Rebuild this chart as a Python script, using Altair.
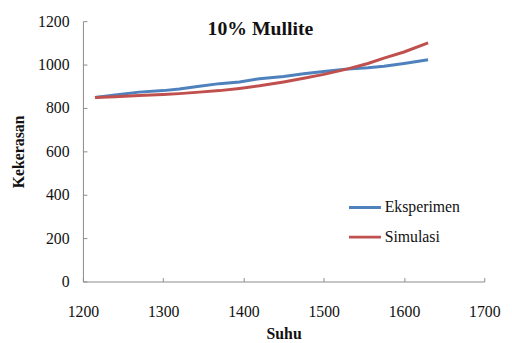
import altair as alt
import pandas as pd

suhu = [1215, 1240, 1270, 1300, 1320, 1345, 1370, 1395, 1420, 1450, 1475, 1500, 1530, 1555, 1575, 1600, 1630]
eksperimen = [848, 860, 873, 880, 887, 900, 912, 920, 935, 945, 958, 968, 980, 985, 992, 1005, 1022]
simulasi = [848, 852, 857, 862, 866, 873, 880, 890, 902, 920, 937, 955, 980, 1005, 1030, 1058, 1100]
series_names = ["Eksperimen", "Simulasi"]
series_colors = ["#4F81BD", "#C0504D"]
title_text = "10% Mullite"

rows = []
for t, v in zip(suhu, eksperimen):
    rows.append({"Suhu": t, "Kekerasan": v, "Seri": series_names[0]})
for t, v in zip(suhu, simulasi):
    rows.append({"Suhu": t, "Kekerasan": v, "Seri": series_names[1]})
df = pd.DataFrame(rows)

FONT = "Liberation Serif, Times New Roman, DejaVu Serif, serif"

lines = alt.Chart(df).mark_line(strokeWidth=3).encode(
    x=alt.X("Suhu:Q", title="Suhu",
            scale=alt.Scale(domain=[1200, 1700], nice=False, zero=False),
            axis=alt.Axis(values=[1200, 1300, 1400, 1500, 1600, 1700], grid=False, format="d",
                          labelFlush=False,
                          domainColor="#8a8a8a", tickColor="#8a8a8a", tickSize={"expr": "-4"},
                          labelPadding=27, labelFont=FONT, labelFontSize=16, labelColor="#111",
                          titleFont=FONT, titleFontSize=16, titleFontWeight="bold",
                          titlePadding=6, titleColor="#111")),
    y=alt.Y("Kekerasan:Q", title="Kekerasan",
            scale=alt.Scale(domain=[0, 1200], nice=False),
            axis=alt.Axis(values=[0, 200, 400, 600, 800, 1000, 1200], grid=False, format="d",
                          labelFlush=False,
                          domainColor="#8a8a8a", tickColor="#8a8a8a", tickSize={"expr": "-4"},
                          labelPadding=18, labelFont=FONT, labelFontSize=16, labelColor="#111",
                          titleFont=FONT, titleFontSize=16, titleFontWeight="bold",
                          titlePadding=11, titleColor="#111")),
    color=alt.Color("Seri:N", title=None,
                    scale=alt.Scale(domain=series_names, range=series_colors),
                    legend=alt.Legend(orient="none", legendX=268, legendY=171,
                                      symbolType="stroke", symbolSize=1050, symbolStrokeWidth=3,
                                      labelFont=FONT, labelFontSize=16, labelColor="#111",
                                      labelOffset=2, rowPadding=4, padding=0)),
    order=alt.Order("Suhu:Q"),
)

title = alt.Chart(pd.DataFrame({"t": [title_text]})).mark_text(
    font=FONT, fontSize=20, fontWeight="bold", color="#111", baseline="middle", align="center"
).encode(x=alt.value(180), y=alt.value(8), text="t:N")

chart = alt.layer(lines, title).properties(
    width=407, height=264,
    autosize=alt.AutoSizeParams(type="none"),
    padding={"left": 76, "top": 11, "right": 20, "bottom": 60},
).configure_view(stroke=None)

chart.save("out.html", embed_options={"renderer": "svg", "actions": False})
